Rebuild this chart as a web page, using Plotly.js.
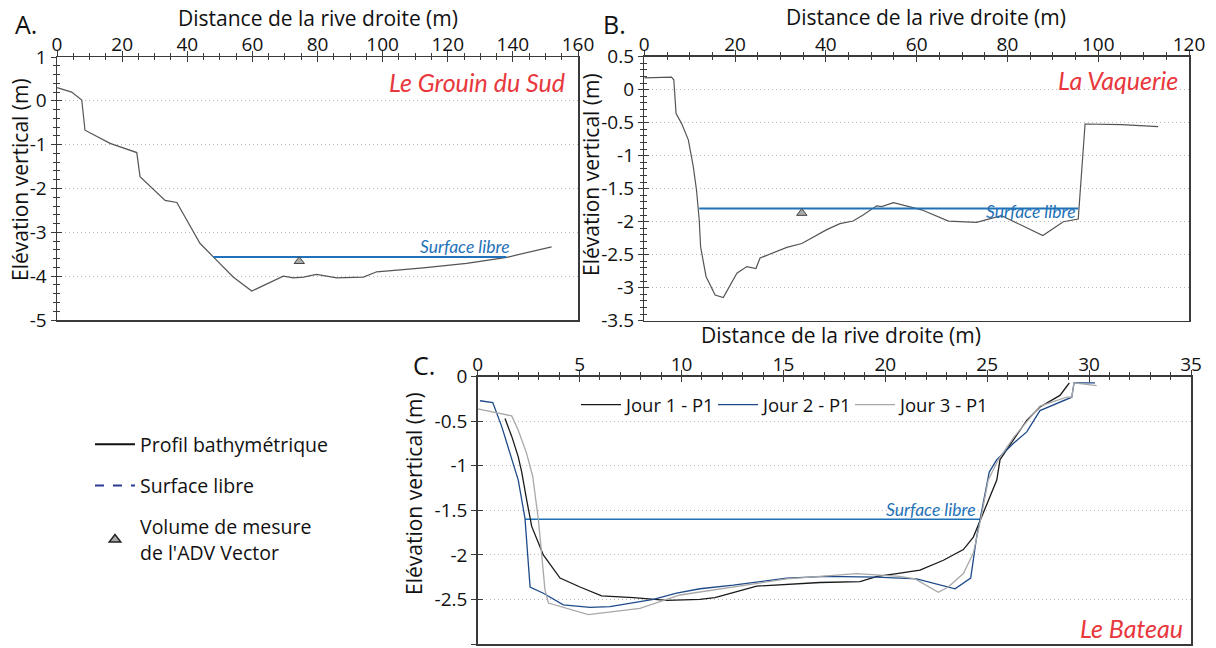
<!DOCTYPE html>
<html>
<head>
<meta charset="utf-8">
<script src="https://cdn.plot.ly/plotly-3.0.1.min.js"></script>
<style>html,body{margin:0;padding:0;background:#fff;}#chart{width:1216px;height:648px;}</style>
</head>
<body>
<div id="chart"></div>
<script>
// ---------- DATA ----------
// Panel A : Le Grouin du Sud
const A_dist = [0,4.5,7.6,8.6,16.3,19.3,24.5,25.5,33.2,36.8,43.9,48,54.1,59.8,69.5,72.6,75.7,79.7,85.9,94.1,98.2,112.5,125.8,138.1,151.9];
const A_elev = [0.3,0.2,0.02,-0.67,-0.97,-1.05,-1.18,-1.73,-2.27,-2.32,-3.25,-3.56,-4.02,-4.34,-4.0,-4.04,-4.02,-3.96,-4.04,-4.02,-3.9,-3.81,-3.71,-3.57,-3.33];
const A_surfDist = [48,138];
const A_surfElev = [-3.56,-3.56];
const A_advDist = [74.4];
const A_advElev = [-3.66];

// Panel B : La Vaquerie
const B_dist = [0,3.5,6.0,6.5,7.0,8.2,9.7,10.8,11.5,12.1,12.4,13.6,15.6,17.4,20.4,22.6,24.6,25.5,28.4,31.4,34.7,37.2,40.2,43.1,46,48.2,51.2,52.3,54.9,61.1,67,73.2,78.7,87.8,92.3,95.6,97.1,105.2,113.2];
const B_elev = [0.18,0.19,0.19,0.15,-0.36,-0.51,-0.76,-1.17,-1.52,-1.97,-2.38,-2.83,-3.11,-3.15,-2.78,-2.68,-2.71,-2.55,-2.47,-2.39,-2.33,-2.23,-2.12,-2.03,-1.99,-1.90,-1.76,-1.77,-1.71,-1.82,-1.99,-2.01,-1.91,-2.21,-2.0,-1.96,-0.52,-0.53,-0.56];
const B_surfDist = [12.1,95.6];
const B_surfElev = [-1.80,-1.80];
const B_advDist = [34.7];
const B_advElev = [-1.87];

// Panel C : Le Bateau
const C_j1Dist = [1.34,1.67,1.99,2.16,2.40,2.65,3.22,4.04,5.02,6.08,7.64,9.27,10.9,11.64,13.69,15.0,16.8,18.76,19.6,20.56,21.7,22.85,23.83,24.32,24.73,25.14,25.47,25.63,26.28,26.94,27.59,28.57,28.9,29.03];
const C_j1Elev = [-0.47,-0.67,-0.90,-1.07,-1.38,-1.68,-2.0,-2.26,-2.36,-2.46,-2.48,-2.51,-2.50,-2.48,-2.35,-2.33,-2.31,-2.30,-2.24,-2.21,-2.17,-2.06,-1.94,-1.80,-1.57,-1.35,-1.16,-0.93,-0.71,-0.49,-0.34,-0.21,-0.11,-0.07];
const C_j2Dist = [0.11,0.74,1.18,1.58,1.99,2.32,2.57,3.22,4.2,5.51,6.49,8.62,9.76,10.91,12.54,15.16,17.12,19.58,21.54,23.42,24.19,24.48,24.73,25.1,25.47,26.28,26.94,27.59,29.15,29.26,30.29];
const C_j2Elev = [-0.27,-0.29,-0.56,-0.86,-1.16,-1.59,-2.36,-2.43,-2.56,-2.59,-2.58,-2.50,-2.43,-2.38,-2.34,-2.26,-2.24,-2.25,-2.27,-2.38,-2.26,-1.80,-1.50,-1.07,-0.93,-0.75,-0.62,-0.38,-0.23,-0.07,-0.07];
const C_j3Dist = [0,1.67,1.99,2.4,2.70,2.98,3.30,3.47,5.43,7.96,9.93,12.54,15.16,16.8,18.6,20.7,21.46,22.6,23.09,23.83,24.32,24.7,25.05,25.55,26.3,27.59,28.9,29.15,29.26,30.37];
const C_j3Elev = [-0.36,-0.44,-0.60,-0.86,-1.12,-1.61,-2.39,-2.54,-2.67,-2.60,-2.45,-2.36,-2.27,-2.24,-2.21,-2.24,-2.27,-2.42,-2.36,-2.21,-1.98,-1.58,-1.16,-0.93,-0.68,-0.33,-0.23,-0.23,-0.07,-0.10];
const C_surfDist = [2.32,24.65];
const C_surfElev = [-1.60,-1.60];

// Tick labels
const A_xTicks = [0,20,40,60,80,100,120,140,160];
const A_yTicks = [1,0,-1,-2,-3,-4,-5];
const A_yLabels = ['1','0','-1','-2','-3','-4','-5'];
const B_xTicks = [0,20,40,60,80,100,120];
const B_yTicks = [0.5,0,-0.5,-1,-1.5,-2,-2.5,-3,-3.5];
const B_yLabels = ['0.5','0','-0.5','-1','-1.5','-2','-2.5','-3','-3.5'];
const C_xTicks = [0,5,10,15,20,25,30,35];
const C_yTicks = [0,-0.5,-1,-1.5,-2,-2.5,-3];
const C_yLabels = ['0','-0.5','-1','-1.5','-2','-2.5','-3'];

// Texts
const stationNames = ['Le Grouin du Sud','La Vaquerie','Le Bateau'];
const panelLetters = ['A.','B.','C.'];
const dayNames = ['Jour 1 - P1','Jour 2 - P1','Jour 3 - P1'];
const xTitle = 'Distance de la rive droite (m)';
const yTitle = 'Elévation vertical (m)';
const surfLabel = 'Surface libre';
// label anchor points (data units) for "Surface libre"
const A_surfLabelPos = [125.2,-3.33];
const B_surfLabelPos = [85.2,-1.84];
const C_surfLabelPos = [22.24,-1.49];

// ---------- STYLE ----------
const FONT = '"Open Sans", Lato, sans-serif';
const IFONT = 'Lato, "Open Sans", sans-serif';
const BLUE = '#1f72b8';
const RED = '#e8383d';
const AXC = '#3a3a3a';

const traces = [];
// A
traces.push({x:A_dist,y:A_elev,xaxis:'x',yaxis:'y',mode:'lines',line:{color:'#555',width:1.2},showlegend:false,hoverinfo:'skip'});
traces.push({x:A_surfDist,y:A_surfElev,xaxis:'x',yaxis:'y',mode:'lines',line:{color:BLUE,width:2},showlegend:false,hoverinfo:'skip'});
traces.push({x:A_advDist,y:A_advElev,xaxis:'x',yaxis:'y',mode:'markers',marker:{symbol:'triangle-up',size:9,color:'#aaa',line:{color:'#444',width:1}},showlegend:false,hoverinfo:'skip'});
// B
traces.push({x:B_dist,y:B_elev,xaxis:'x2',yaxis:'y2',mode:'lines',line:{color:'#555',width:1.2},showlegend:false,hoverinfo:'skip'});
traces.push({x:B_surfDist,y:B_surfElev,xaxis:'x2',yaxis:'y2',mode:'lines',line:{color:BLUE,width:2},showlegend:false,hoverinfo:'skip'});
traces.push({x:B_advDist,y:B_advElev,xaxis:'x2',yaxis:'y2',mode:'markers',marker:{symbol:'triangle-up',size:9,color:'#aaa',line:{color:'#444',width:1}},showlegend:false,hoverinfo:'skip'});
// C
traces.push({x:C_surfDist,y:C_surfElev,xaxis:'x3',yaxis:'y3',mode:'lines',line:{color:BLUE,width:1.6},showlegend:false,hoverinfo:'skip'});
traces.push({x:C_j1Dist,y:C_j1Elev,xaxis:'x3',yaxis:'y3',mode:'lines',name:dayNames[0],line:{color:'#1a1a1a',width:1.3},legend:'legend',hoverinfo:'skip'});
traces.push({x:C_j2Dist,y:C_j2Elev,xaxis:'x3',yaxis:'y3',mode:'lines',name:dayNames[1],line:{color:'#1f4a8a',width:1.3},legend:'legend',hoverinfo:'skip'});
traces.push({x:C_j3Dist,y:C_j3Elev,xaxis:'x3',yaxis:'y3',mode:'lines',name:dayNames[2],line:{color:'#a8a8a8',width:1.3},legend:'legend',hoverinfo:'skip'});
// key (legend2) entries
traces.push({x:[null],y:[null],xaxis:'x',yaxis:'y',mode:'lines',name:'Profil bathymétrique',line:{color:'#111',width:2},legend:'legend2',legendgroup:'k1',hoverinfo:'skip'});
traces.push({x:[null],y:[null],xaxis:'x',yaxis:'y',mode:'lines',name:'Surface libre',line:{color:'#2b3a93',width:2,dash:'dash'},legend:'legend2',legendgroup:'k2',hoverinfo:'skip'});
traces.push({x:[null],y:[null],xaxis:'x',yaxis:'y',mode:'markers',name:'Volume de mesure<br>de l\'ADV Vector',marker:{symbol:'triangle-up',size:10,color:'#aaa',line:{color:'#222',width:1.5}},legend:'legend2',legendgroup:'k3',hoverinfo:'skip'});
// empty traces for the inward tick overlays
['4','5','6'].forEach(n=>traces.push({x:[],y:[],xaxis:'x'+n,yaxis:'y'+n,showlegend:false,hoverinfo:'skip'}));

const tickFont = {family:FONT,size:19,color:'#111'};

function xMain(domain,range,tickvals,minorD,anchor){
  return {domain:domain,range:range,anchor:anchor,side:'top',tickmode:'array',tickvals:tickvals,ticktext:tickvals.map(String),
    ticks:'outside',ticklen:5,tickwidth:1,tickcolor:AXC,ticklabelstandoff:-8,minor:{ticks:'outside',ticklen:3,dtick:minorD,tick0:0,tickcolor:AXC,showgrid:false},
    showline:true,linecolor:AXC,linewidth:1.5,mirror:true,showgrid:false,zeroline:false,tickfont:tickFont,
    automargin:false,fixedrange:true};
}
function yMain(domain,range,tickvals,ticktext,minorD,anchor){
  const o={domain:domain,range:range,anchor:anchor,tickmode:'array',tickvals:tickvals,ticktext:ticktext,
    ticks:'outside',ticklen:5,tickwidth:1,tickcolor:AXC,
    showline:true,linecolor:AXC,linewidth:1.5,mirror:true,showgrid:true,gridcolor:'#b8b8b8',griddash:'1px,3px',gridwidth:1,zeroline:false,tickfont:tickFont,
    automargin:false,fixedrange:true};
  if(minorD) o.minor={ticks:'outside',ticklen:3,dtick:minorD,tick0:0,tickcolor:AXC,showgrid:false};
  return o;
}
function xOver(base,range,tickvals,minorD,anchor){
  return {overlaying:base,range:range,anchor:anchor,side:'top',tickmode:'array',tickvals:tickvals,showticklabels:false,
    ticks:'inside',ticklen:5,tickwidth:1,tickcolor:AXC,minor:{ticks:'inside',ticklen:3,dtick:minorD,tick0:0,tickcolor:AXC,showgrid:false},
    showline:false,showgrid:false,zeroline:false,fixedrange:true};
}
function yOver(base,range,tickvals,minorD,anchor){
  const o={overlaying:base,range:range,anchor:anchor,tickmode:'array',tickvals:tickvals,showticklabels:false,
    ticks:'inside',ticklen:5,tickwidth:1,tickcolor:AXC,showline:false,showgrid:false,zeroline:false,fixedrange:true};
  if(minorD) o.minor={ticks:'inside',ticklen:3,dtick:minorD,tick0:0,tickcolor:AXC,showgrid:false};
  return o;
}

const W=1216,H=648;
const dA={x:[57/W,578/W],y:[1-320/H,1-57/H]};
const dB={x:[644.3/W,1189/W],y:[1-320.7/H,1-56.7/H]};
const dC={x:[477.7/W,1191/W],y:[1-644/H,1-376.7/H]};

const annotations=[];
function ann(o){annotations.push(Object.assign({showarrow:false},o));}
// axis titles
const xtFont={family:FONT,size:21,color:'#111'};
const ytFont={family:FONT,size:21,color:'#111'};
ann({text:xTitle,xref:'paper',yref:'paper',x:317.5/W,y:1-18/H,xanchor:'center',yanchor:'middle',borderpad:0,font:xtFont});
ann({text:xTitle,xref:'paper',yref:'paper',x:926/W,y:1-17/H,xanchor:'center',yanchor:'middle',borderpad:0,font:xtFont});
ann({text:xTitle,xref:'paper',yref:'paper',x:841/W,y:1-335/H,xanchor:'center',yanchor:'middle',borderpad:0,font:xtFont});
ann({text:yTitle,xref:'paper',yref:'paper',x:20/W,y:1-180/H,xanchor:'center',yanchor:'middle',textangle:-90,borderpad:0,font:ytFont});
ann({text:yTitle,xref:'paper',yref:'paper',x:591/W,y:1-175/H,xanchor:'center',yanchor:'middle',textangle:-90,borderpad:0,font:ytFont});
ann({text:yTitle,xref:'paper',yref:'paper',x:414/W,y:1-494/H,xanchor:'center',yanchor:'middle',textangle:-90,borderpad:0,font:ytFont});
// station names
ann({text:stationNames[0],xref:'x domain',yref:'y domain',x:0.979,y:0.905,xanchor:'right',yanchor:'middle',font:{family:IFONT,size:25,color:RED,style:'italic'}});
ann({text:stationNames[1],xref:'x2 domain',yref:'y2 domain',x:0.983,y:0.912,xanchor:'right',yanchor:'middle',font:{family:IFONT,size:25,color:RED,style:'italic'}});
ann({text:stationNames[2],xref:'x3 domain',yref:'y3 domain',x:0.992,y:0.06,xanchor:'right',yanchor:'middle',font:{family:IFONT,size:25,color:RED,style:'italic'}});
// "Surface libre" labels
ann({text:surfLabel,xref:'x',yref:'y',x:A_surfLabelPos[0],y:A_surfLabelPos[1],font:{family:IFONT,size:17.5,color:BLUE,style:'italic'}});
ann({text:surfLabel,xref:'x2',yref:'y2',x:B_surfLabelPos[0],y:B_surfLabelPos[1],font:{family:IFONT,size:17.5,color:BLUE,style:'italic'}});
ann({text:surfLabel,xref:'x3',yref:'y3',x:C_surfLabelPos[0],y:C_surfLabelPos[1],font:{family:IFONT,size:17.5,color:BLUE,style:'italic'}});
// panel letters
ann({text:panelLetters[0],xref:'paper',yref:'paper',x:26/W,y:1-24/H,xanchor:'center',yanchor:'middle',font:{family:FONT,size:25,color:'#111'}});
ann({text:panelLetters[1],xref:'paper',yref:'paper',x:614/W,y:1-24/H,xanchor:'center',yanchor:'middle',font:{family:FONT,size:25,color:'#111'}});
ann({text:panelLetters[2],xref:'paper',yref:'paper',x:424/W,y:1-365/H,xanchor:'center',yanchor:'middle',font:{family:FONT,size:25,color:'#111'}});

const layout={
  width:W,height:H,margin:{l:0,r:0,t:0,b:0},paper_bgcolor:'#fff',plot_bgcolor:'rgba(0,0,0,0)',
  font:{family:FONT,color:'#111'},
  xaxis:xMain(dA.x,[0,160],A_xTicks,5,'y'),
  yaxis:yMain(dA.y,[-5,1],A_yTicks,A_yLabels,0.2,'x'),
  xaxis2:xMain(dB.x,[0,120],B_xTicks,5,'y2'),
  yaxis2:yMain(dB.y,[-3.5,0.5],B_yTicks,B_yLabels,0.1,'x2'),
  xaxis3:xMain(dC.x,[0,35],C_xTicks,1,'y3'),
  yaxis3:yMain(dC.y,[-3,0],C_yTicks,C_yLabels,null,'x3'),
  xaxis4:xOver('x',[0,160],A_xTicks,5,'y4'),
  yaxis4:yOver('y',[-5,1],A_yTicks,0.2,'x4'),
  xaxis5:xOver('x2',[0,120],B_xTicks,5,'y5'),
  yaxis5:yOver('y2',[-3.5,0.5],B_yTicks,0.1,'x5'),
  xaxis6:xOver('x3',[0,35],C_xTicks,1,'y6'),
  yaxis6:yOver('y3',[-3,0],C_yTicks,null,'x6'),
  showlegend:true,
  legend:{orientation:'h',x:576/W,y:1-386/H,xanchor:'left',yanchor:'top',bgcolor:'rgba(0,0,0,0)',font:{family:FONT,size:18.5,color:'#111'},entrywidth:82,entrywidthmode:'pixels',itemwidth:40},
  legend2:{orientation:'v',x:90/W,y:1-425/H,xanchor:'left',yanchor:'top',bgcolor:'rgba(0,0,0,0)',font:{family:FONT,size:19.5,color:'#111'},tracegroupgap:13,itemwidth:40},
  annotations:annotations
};
Plotly.newPlot('chart',traces,layout,{displayModeBar:false,staticPlot:true});
</script>
</body>
</html>
